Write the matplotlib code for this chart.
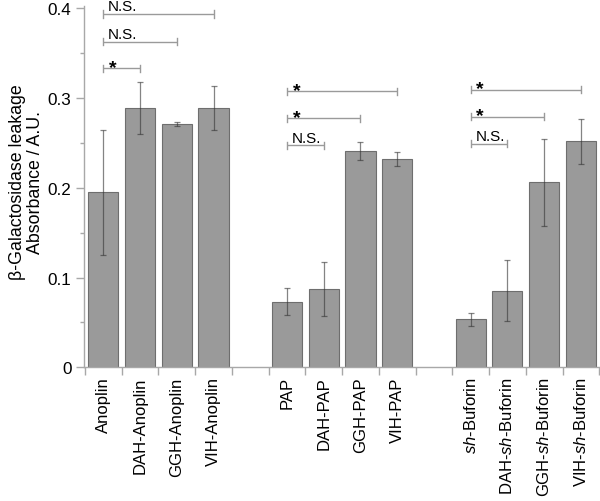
import matplotlib
matplotlib.use("Agg")
import matplotlib.pyplot as plt
from matplotlib.ticker import MultipleLocator, FixedLocator

plt.rcParams['font.family'] = ['Liberation Sans', 'DejaVu Sans']
plt.rcParams['mathtext.fontset'] = 'custom'
plt.rcParams['mathtext.rm'] = 'Liberation Sans'
plt.rcParams['mathtext.it'] = 'Liberation Sans:italic'

# ---- data ----
groups = ['Anoplin', 'PAP', 'sh-Buforin']
categories = ['Anoplin', 'DAH-Anoplin', 'GGH-Anoplin', 'VIH-Anoplin',
              'PAP', 'DAH-PAP', 'GGH-PAP', 'VIH-PAP',
              r'$\mathit{sh}$-Buforin', r'DAH-$\mathit{sh}$-Buforin',
              r'GGH-$\mathit{sh}$-Buforin', r'VIH-$\mathit{sh}$-Buforin']
values = [0.195, 0.289, 0.271, 0.289,
          0.073, 0.087, 0.241, 0.232,
          0.0535, 0.0855, 0.206, 0.252]
errors = [0.070, 0.029, 0.002, 0.024,
          0.015, 0.030, 0.010, 0.008,
          0.0075, 0.034, 0.049, 0.025]
# significance comparisons: (group, first bar, second bar, label, bracket height)
comparisons = [
    (0, 0, 3, 'N.S.', 0.3937), (0, 0, 2, 'N.S.', 0.3628), (0, 0, 1, '*', 0.3331),
    (1, 0, 3, '*', 0.3075), (1, 0, 2, '*', 0.2774), (1, 0, 1, 'N.S.', 0.2474),
    (2, 0, 3, '*', 0.3093), (2, 0, 2, '*', 0.2792), (2, 0, 1, 'N.S.', 0.2491),
]
n_per_group = 4
y_ticks = [0, 0.1, 0.2, 0.3, 0.4]
y_tick_labels = ['0', '0.1', '0.2', '0.3', '0.4']

# ---- layout ----
fig = plt.figure(figsize=(6.0, 5.02), dpi=100)
ax = fig.add_axes([84 / 600, 0.2663, 516 / 600, 0.7203])

slots = [g * (n_per_group + 1) + j for g in range(len(groups)) for j in range(n_per_group)]
centers = [s + 0.5 for s in slots]

ax.bar(centers, values, width=0.82, color='#9a9a9a', edgecolor='#6e6e6e',
       linewidth=0.8, zorder=2)
ax.errorbar(centers, values, yerr=errors, fmt='none', ecolor='#333333',
            alpha=0.6, elinewidth=0.9, capsize=2.5, capthick=0.9, zorder=3)

# brackets
cap = 0.0040
for g, a, b, lab, h in comparisons:
    x1 = centers[g * n_per_group + a]
    x2 = centers[g * n_per_group + b]
    ax.plot([x1, x2], [h, h], color='#9a9a9a', lw=1.0, zorder=4,
            solid_capstyle='butt')
    for xx in (x1, x2):
        ax.plot([xx, xx], [h - cap, h + cap], color='#9a9a9a', lw=1.0, zorder=4)
    if lab == '*':
        ax.text(x1 + 0.15, h - 0.0040, '*', fontsize=14, fontweight='bold',
                ha='left', va='baseline', color='black', zorder=5)
    else:
        ax.text(x1 + 0.13, h + 0.0042, lab, fontsize=11,
                ha='left', va='baseline', color='black', zorder=5)

ax.set_xlim(-0.027, 14.02)
ax.set_ylim(0, 0.403)

spine_col = '#a8a8a8'
for s in ['top', 'right']:
    ax.spines[s].set_visible(False)
for s in ['left', 'bottom']:
    ax.spines[s].set_color(spine_col)
    ax.spines[s].set_linewidth(1.0)

ax.set_yticks(y_ticks)
ax.set_yticklabels(y_tick_labels, fontsize=12.3)
ax.yaxis.set_minor_locator(MultipleLocator(0.05))
ax.tick_params(axis='y', which='major', length=5.5, width=1.0, color=spine_col,
               pad=3.5, direction='out')
ax.tick_params(axis='y', which='minor', length=3, width=1.0, color=spine_col,
               direction='out')

ax.set_xticks(centers)
ax.set_xticklabels(categories, rotation=90, fontsize=12, ha='center', va='top')
ax.xaxis.set_minor_locator(FixedLocator(list(range(0, 15))))
ax.tick_params(axis='x', which='major', length=0, pad=6.5)
ax.tick_params(axis='x', which='minor', length=6, width=1.0, color=spine_col,
               direction='out')

ax.set_ylabel('β-Galactosidase leakage\nAbsorbance / A.U.', fontsize=12.8,
              va='center', ha='center', linespacing=1.1)
ax.yaxis.set_label_coords(-0.111, 0.515)

fig.savefig('out.png', dpi=100)
